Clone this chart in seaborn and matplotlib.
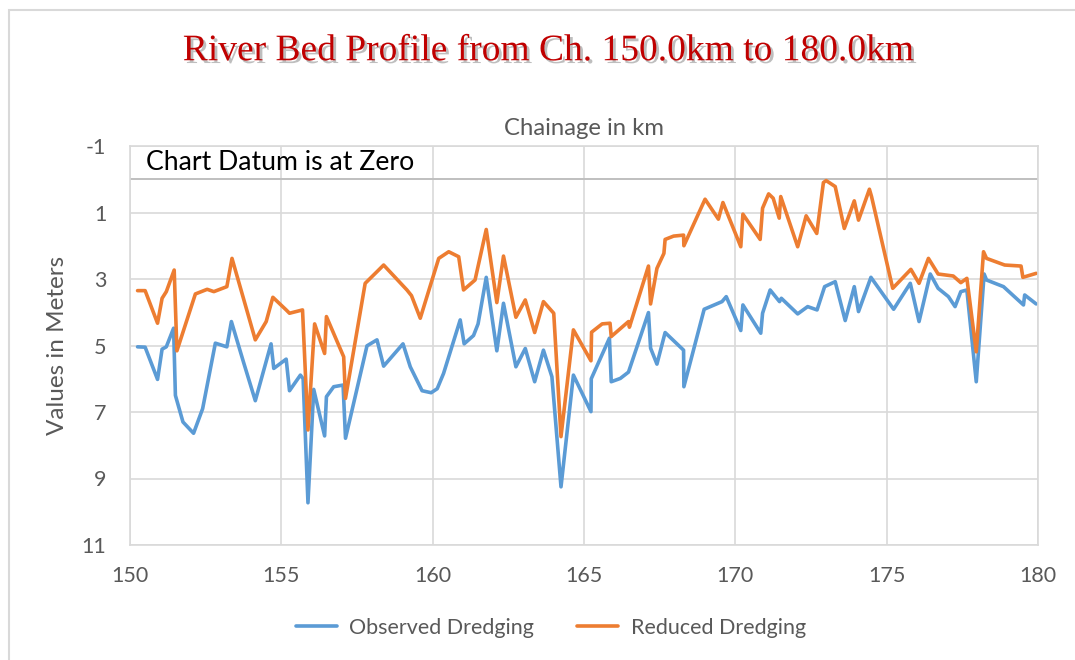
import matplotlib
matplotlib.use("Agg")
import matplotlib.pyplot as plt
import matplotlib.patheffects as pe
from matplotlib.patches import Rectangle
import pandas as pd
import seaborn as sns

# Chainage (km) and bed level (m below chart datum) for each series
observed_km = [150.25, 150.50, 150.91, 151.06, 151.20, 151.44, 151.50, 151.75, 152.10, 152.40,
               152.82, 153.20, 153.35, 153.75, 154.14, 154.66, 154.75, 155.16, 155.27, 155.63,
               155.72, 155.88, 156.07, 156.43, 156.49, 156.73, 157.04, 157.12, 157.83, 158.16,
               158.38, 159.02, 159.26, 159.65, 159.95, 160.15, 160.36, 160.91, 161.04, 161.35,
               161.50, 161.77, 162.12, 162.34, 162.75, 163.06, 163.37, 163.66, 163.94, 164.24,
               164.65, 165.23, 165.24, 165.84, 165.90, 166.20, 166.47, 167.13, 167.20, 167.41,
               167.68, 168.29, 168.30, 168.97, 169.56, 169.70, 170.18, 170.25, 170.84, 170.90,
               171.15, 171.46, 171.52, 172.06, 172.39, 172.70, 172.95, 173.30, 173.63, 173.93,
               174.07, 174.48, 175.23, 175.78, 176.07, 176.44, 176.70, 177.04, 177.26, 177.45,
               177.65, 177.96, 178.22, 178.30, 178.86, 179.52, 179.56, 179.94]
observed_m = [5.04, 5.05, 6.02, 5.11, 5.04, 4.48, 6.50, 7.30, 7.64, 6.90,
              4.93, 5.04, 4.28, 5.50, 6.66, 4.95, 5.69, 5.41, 6.36, 5.89,
              6.00, 9.73, 6.32, 7.72, 6.54, 6.24, 6.19, 7.79, 5.01, 4.83,
              5.62, 4.95, 5.64, 6.36, 6.42, 6.30, 5.84, 4.23, 4.95, 4.70,
              4.35, 2.95, 5.16, 3.73, 5.64, 5.09, 6.09, 5.14, 5.94, 9.25,
              5.89, 6.99, 6.00, 4.78, 6.09, 5.99, 5.80, 4.01, 5.08, 5.56,
              4.61, 5.14, 6.24, 3.91, 3.68, 3.53, 4.55, 3.78, 4.63, 4.03,
              3.33, 3.68, 3.58, 4.05, 3.83, 3.93, 3.23, 3.08, 4.25, 3.23,
              3.98, 2.95, 3.91, 3.13, 4.28, 2.85, 3.28, 3.53, 3.83, 3.38,
              3.33, 6.09, 2.85, 3.03, 3.23, 3.78, 3.48, 3.75]

reduced_km = [150.25, 150.50, 150.91, 151.06, 151.20, 151.46, 151.55, 152.16, 152.55, 152.77,
              153.20, 153.37, 154.14, 154.50, 154.72, 155.16, 155.27, 155.70, 155.88, 156.10,
              156.43, 156.49, 157.06, 157.12, 157.77, 158.16, 158.38, 159.15, 159.30, 159.59,
              160.20, 160.53, 160.86, 161.02, 161.40, 161.77, 162.12, 162.34, 162.75, 163.06,
              163.37, 163.66, 164.00, 164.24, 164.65, 165.23, 165.25, 165.60, 165.86, 165.90,
              166.47, 166.50, 167.13, 167.20, 167.41, 167.64, 167.68, 167.96, 168.29, 168.30,
              169.00, 169.44, 169.59, 170.18, 170.25, 170.82, 170.90, 171.10, 171.25, 171.45,
              171.50, 172.06, 172.34, 172.69, 172.91, 173.00, 173.30, 173.60, 173.93, 174.07,
              174.43, 174.50, 175.20, 175.80, 176.07, 176.38, 176.70, 177.20, 177.45, 177.65,
              177.96, 178.20, 178.30, 178.90, 179.44, 179.50, 179.94]
reduced_m = [3.35, 3.35, 4.33, 3.58, 3.38, 2.73, 5.16, 3.45, 3.31, 3.38,
             3.23, 2.38, 4.83, 4.28, 3.55, 3.93, 4.03, 3.93, 7.54, 4.35,
             5.24, 4.13, 5.34, 6.59, 3.13, 2.78, 2.58, 3.33, 3.50, 4.18,
             2.38, 2.18, 2.33, 3.33, 3.03, 1.51, 3.71, 2.31, 4.15, 3.63,
             4.61, 3.68, 4.03, 7.74, 4.53, 5.46, 4.60, 4.35, 4.33, 4.73,
             4.28, 4.45, 2.61, 3.75, 2.68, 2.23, 1.81, 1.71, 1.68, 2.00,
             0.60, 1.20, 0.70, 2.03, 1.05, 1.81, 0.87, 0.44, 0.57, 1.17,
             0.52, 2.03, 1.10, 1.63, 0.10, 0.04, 0.22, 1.48, 0.65, 1.23,
             0.30, 0.52, 3.28, 2.71, 3.13, 2.38, 2.85, 2.91, 3.11, 2.98,
             5.19, 2.18, 2.38, 2.58, 2.61, 2.95, 2.83]

series_names = ["Observed Dredging", "Reduced Dredging"]
series_colors = ["#5B9BD5", "#ED7D31"]
x_ticks = [150, 155, 160, 165, 170, 175, 180]
y_ticks = [-1, 1, 3, 5, 7, 9, 11]

df = pd.concat([
    pd.DataFrame({"km": observed_km, "m": observed_m, "series": series_names[0]}),
    pd.DataFrame({"km": reduced_km, "m": reduced_m, "series": series_names[1]}),
], ignore_index=True)

sns.set_theme(style="white")
plt.rcParams["font.family"] = ["Lato", "DejaVu Sans"]
plt.rcParams["axes.unicode_minus"] = False
text_grey = "#595959"
grid_grey = "#D9D9D9"

fig = plt.figure(figsize=(10.75, 6.6), dpi=100)
# light outer frame of the chart area (left and top edges visible)
fig.patches.append(Rectangle((9 / 1075, -0.05), 1.2, 1 - 10 / 660 + 0.05,
                             transform=fig.transFigure, fill=False,
                             edgecolor="#D9D9D9", linewidth=1.5))
ax = fig.add_axes([130 / 1075, 1 - 545 / 660, (1038 - 130) / 1075, (545 - 146) / 660])

sns.lineplot(data=df, x="km", y="m", hue="series", palette=series_colors,
             sort=False, estimator=None, linewidth=2.6, ax=ax, legend=True)
for line in ax.get_lines():
    line.set_solid_joinstyle("round")
    line.set_solid_capstyle("round")

ax.set_xlim(150, 180)
ax.set_ylim(11, -1)
ax.set_xticks(x_ticks)
ax.set_yticks(y_ticks)
ax.grid(True, color=grid_grey, linewidth=1.2)
ax.set_axisbelow(True)
for s in ax.spines.values():
    s.set_color(grid_grey)
    s.set_linewidth(1.2)
# horizontal axis line crosses the reversed value axis at the chart datum
ax.axhline(0, color="#BFBFBF", linewidth=1.4, zorder=1)
ax.tick_params(axis="both", length=0, labelsize=15.5, labelcolor=text_grey)
ax.tick_params(axis="x", pad=15)
ax.tick_params(axis="y", pad=17)

ax.set_xlabel("Chainage in km", fontsize=17.2, color=text_grey, va="center")
ax.xaxis.set_label_position("top")
ax.xaxis.set_label_coords(0.5, 1 + (146 - 135) / 399)
ax.set_ylabel("Values in Meters", fontsize=17.5, color=text_grey, va="center")
ax.yaxis.set_label_coords((58 - 130) / 908, 0.5)

ax.text(0.018, -0.5, "Chart Datum is at Zero", transform=ax.get_yaxis_transform(),
        fontsize=19.2, color="black", va="center", ha="left")

fig.text(548 / 1075, 1 - 51 / 660, "River Bed Profile from Ch. 150.0km to 180.0km",
         family="Liberation Serif", fontsize=27, color="#C00000", ha="center", va="center",
         path_effects=[pe.SimplePatchShadow(offset=(2, -2), shadow_rgbFace="#7F7F7F", alpha=0.5),
                       pe.Normal()])

handles, labels = ax.get_legend_handles_labels()
ax.get_legend().remove()
fig.legend(handles, labels, loc="center", bbox_to_anchor=(551 / 1075, 1 - 628 / 660), ncol=2,
           frameon=False, fontsize=15.5, handlelength=1.9, handletextpad=0.6,
           columnspacing=2.0, labelcolor=text_grey)

fig.savefig("out.png", dpi=100)
